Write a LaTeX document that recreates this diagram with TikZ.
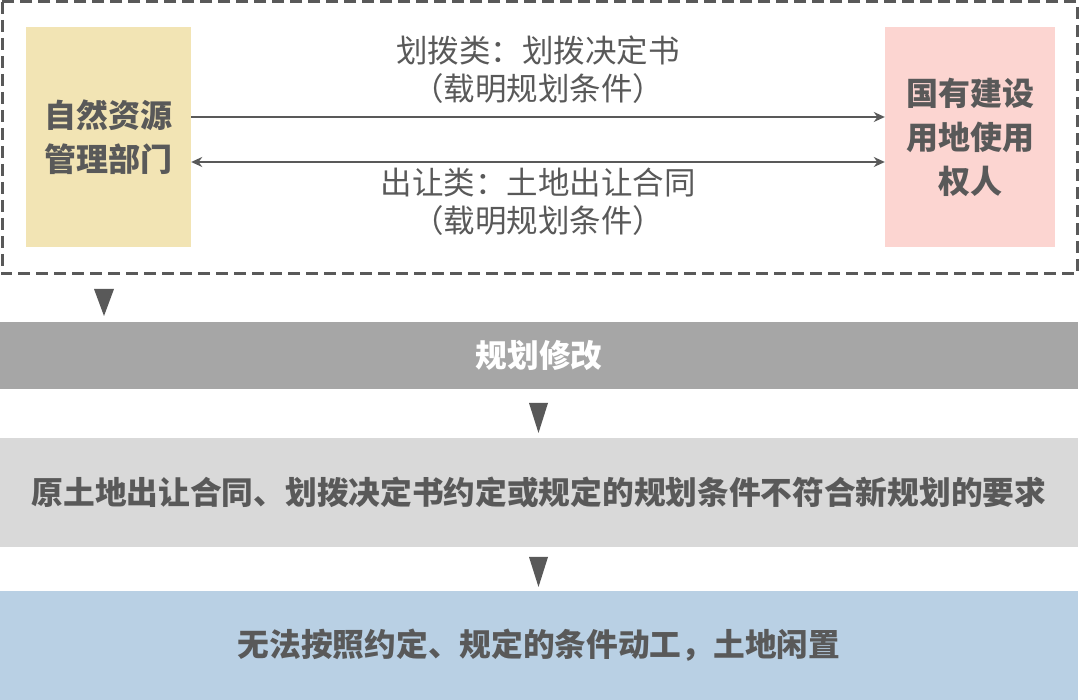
\documentclass[tikz,border=0pt]{standalone}
\usepackage{fontspec}
\setmainfont{Noto Sans CJK SC}
\usetikzlibrary{arrows.meta}
\definecolor{txt}{HTML}{595959}
\definecolor{sand}{HTML}{F2E4B4}
\definecolor{pinkbox}{HTML}{FCD5D1}
\definecolor{midgray}{HTML}{A6A6A6}
\definecolor{lightgray}{HTML}{D9D9D9}
\definecolor{paleblue}{HTML}{B9D0E4}
\tikzset{
  party/.style={draw=none, minimum width=#1, minimum height=220pt, inner sep=0pt,
    align=center, text=txt, font=\fontsize{32}{44}\selectfont\bfseries},
  band/.style={draw=none, minimum width=1078pt, inner sep=0pt, align=center,
    font=\fontsize{31.7}{40}\selectfont\bfseries},
  lbl/.style={text=txt, align=center, inner sep=0pt, font=\fontsize{31.5}{38}\selectfont},
  conn/.style={draw=txt, line width=2.3pt, -{Stealth[length=11pt,width=10pt]}},
  conn2/.style={draw=txt, line width=2.3pt, {Stealth[length=11pt,width=10pt]}-{Stealth[length=11pt,width=10pt]}},
  frame/.style={draw=txt, line width=3pt, dash pattern=on 12pt off 6pt},
  marker/.style={fill=txt, draw=none}
}
\begin{document}
\begin{tikzpicture}[x=1pt,y=-1pt]
\useasboundingbox (0,0) rectangle (1080,700);
\fill[white] (0,0) rectangle (1080,700);
% dashed frame
\draw[frame] (2,2) rectangle (1077,274);
% parties
\node[party=165pt, fill=sand] (nr) at (108.5,137) {自然资源\\管理部门};
\node[party=170pt, fill=pinkbox] (ho) at (970,137) {国有建设\\用地使用\\权人};
% connectors
\draw[conn] ([yshift=20pt]nr.east) -- ([yshift=20pt]ho.west);
\draw[conn2] ([yshift=-25pt]nr.east) -- ([yshift=-25pt]ho.west);
% labels
\node[lbl] (l1) at (538,70) {划拨类：划拨决定书\\（载明规划条件）};
\node[lbl] (l2) at (538,202) {出让类：土地出让合同\\（载明规划条件）};
% bands
\node[band, fill=midgray, minimum height=67pt, text=white] (b1) at (539,355.5) {规划修改};
\node[band, fill=lightgray, minimum height=109pt, text=txt] (b2) at (539,492.5) {原土地出让合同、划拨决定书约定或规定的规划条件不符合新规划的要求};
\node[band, fill=paleblue, minimum height=109pt, text=txt] (b3) at (539,645.5) {无法按照约定、规定的条件动工，土地闲置};
% flow markers
\fill[marker] (94,289) -- (114,289) -- (104,316) -- cycle;
\fill[marker] (529,403) -- (548,403) -- (538.5,433) -- cycle;
\fill[marker] (529,557) -- (548,557) -- (538.5,587) -- cycle;
\end{tikzpicture}
\end{document}
